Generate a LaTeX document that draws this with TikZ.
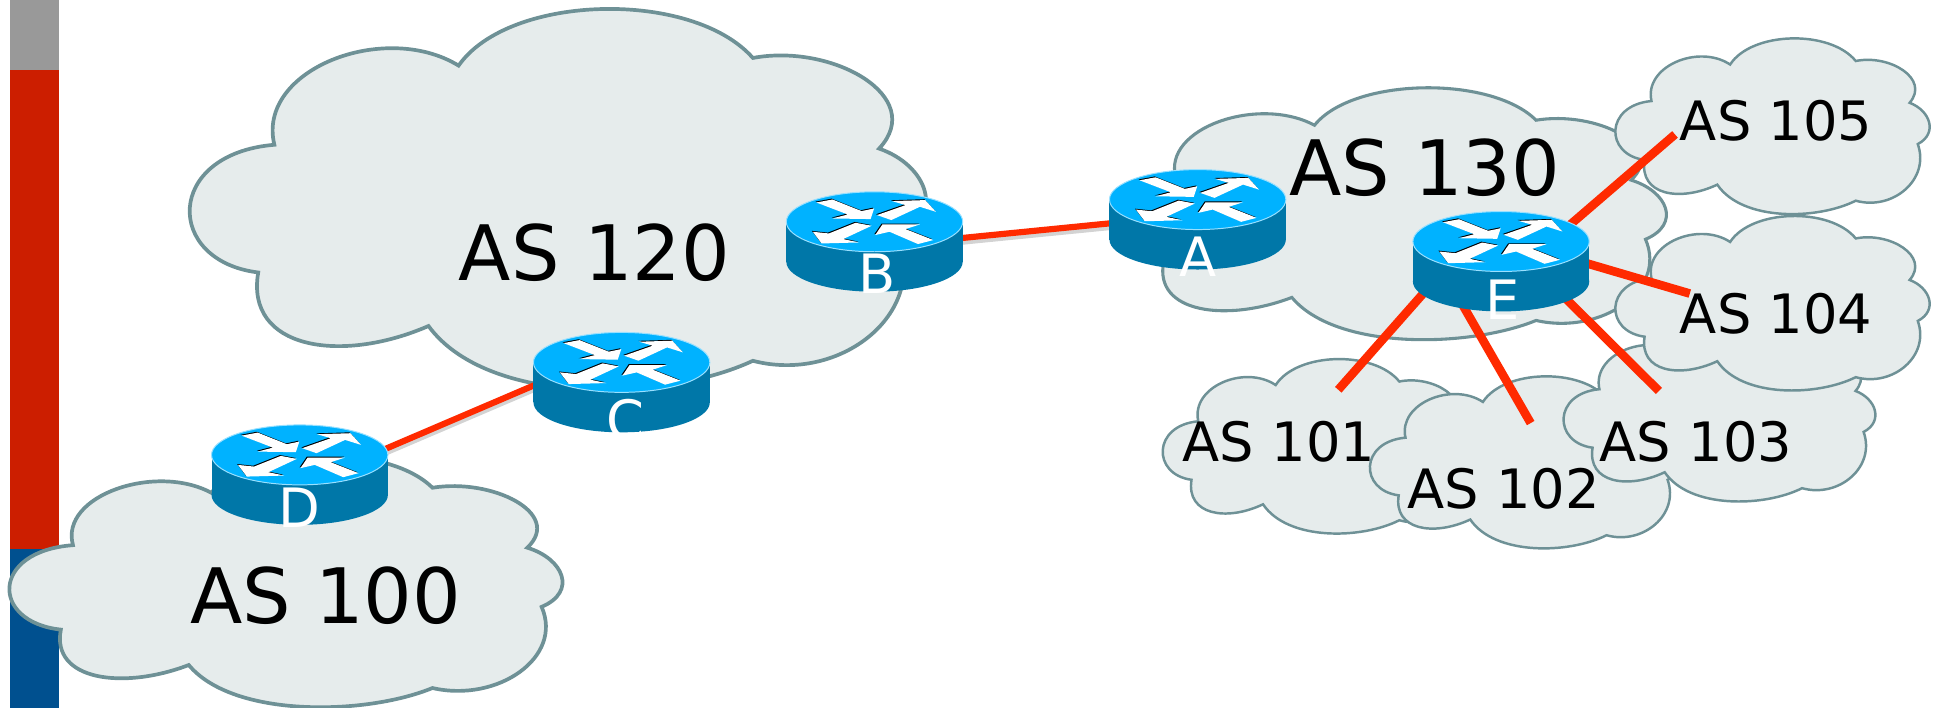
\documentclass[tikz,border=0pt]{standalone}
\usepackage{fontspec}
\setmainfont{DejaVu Sans}
\usetikzlibrary{calc,positioning}
\definecolor{cloudfill}{RGB}{230,236,236}
\definecolor{cloudedge}{RGB}{110,145,150}
\definecolor{linkred}{RGB}{255,42,0}
\definecolor{routertop}{RGB}{0,178,255}
\definecolor{routerside}{RGB}{0,119,168}
\definecolor{barred}{RGB}{204,30,0}
\definecolor{barblue}{RGB}{0,80,143}
\definecolor{bargray}{RGB}{153,153,153}
\newcommand{\ascloud}[5][2]{\draw[cloudbody,line width=#1pt,shift={(#2,#3)},x=#4pt,y=-#5pt] (.088,.69)
 .. controls (-.04,.66) and (-.04,.38) .. (.11,.356)
 .. controls (.085,.16) and (.26,.03) .. (.361,.149)
 .. controls (.43,-.04) and (.68,-.05) .. (.762,.129)
 .. controls (.87,.09) and (1.0,.23) .. (.934,.366)
 .. controls (1.0,.41) and (1.025,.54) .. (.96,.60)
 .. controls (1.0,.80) and (.88,.98) .. (.762,.921)
 .. controls (.64,1.03) and (.40,1.04) .. (.32,.83)
 .. controls (.2,.93) and (.07,.89) .. cycle;}
\newcommand{\arrowset}{
 (-58.2,-19.3)--(-42.1,-22.3)--(-12.9,-10.7)--(-.4,-13.3)--(-3.9,-2.7)--(-42.1,-3.3)--(-26.8,-7.3)--cycle
 (2.5,-6.7)--(16.8,-1.7)--(45.4,-15)--(61.4,-10)--(50.7,-21.7)--(17.5,-20.7)--(31.1,-16.7)--cycle
 (-18.9,1)--(-2.9,4)--(-31.4,17.3)--(-15.4,20.7)--(-52.9,21.7)--(-61.8,10)--(-45.7,11.7)--cycle
 (.7,13.3)--(7.9,2.7)--(45.4,2.7)--(31,7.3)--(58.9,18.3)--(43.5,22.3)--(15,10)--cycle}
\begin{document}
\begin{tikzpicture}[x=1pt,y=-1pt,
 cloudbody/.style={draw=cloudedge,fill=cloudfill},
 hub/.style={draw=none,minimum width=80pt,minimum height=40pt,inner sep=0pt},
 link/.style={draw=linkred,line width=5pt,preaction={draw=black!50,opacity=.35,line width=5pt,transform canvas={yshift=-3pt}}},
 spoke/.style={draw=linkred,line width=7pt},
 bigas/.style={font=\fontsize{62}{62}\selectfont,inner sep=0pt},
 smallas/.style={font=\fontsize{44}{44}\selectfont,inner sep=0pt},
 routername/.style={font=\fontsize{44}{44}\selectfont,text=white,inner sep=0pt},
 router/.pic={
  \fill[routerside] (0,16.2) ellipse [x radius=71.5,y radius=24.3];
  \fill[routerside] (-71.5,-16.2) rectangle (71.5,16.2);
  \draw[draw=white!60!routertop,fill=routertop,line width=.8pt] (0,-16.2) ellipse [x radius=71.5,y radius=24.3];
  \fill[black,shift={(-.7,-16.9)},scale=.81] \arrowset;
  \fill[white,shift={(0,-16.2)},scale=.81] \arrowset;
 }]
\useasboundingbox (0,0) rectangle (1568,574);
\fill[bargray] (8,0) rectangle (48,57);
\fill[barred] (8,57) rectangle (48,445);
\fill[barblue] (8,445) rectangle (48,574);
\ascloud[3]{157}{7}{595}{310}
\ascloud[3]{10}{369}{447}{205}
\ascloud[2.5]{904}{71}{448}{205}
\ascloud{944}{291}{250}{142}
\ascloud{1112}{305}{250}{140}
\ascloud{1269}{265}{252}{142}
\ascloud{1311}{175}{254}{142}
\ascloud{1311}{31}{254}{143}
\node[hub] (A) at (971,178) {};
\node[hub] (B) at (709,196) {};
\node[hub] (C) at (504,310) {};
\node[hub] (D) at (243,385) {};
\node[hub] (E) at (1217,212) {};
\coordinate (to105) at (1358,109);
\coordinate (to104) at (1370,238);
\coordinate (to103) at (1345,317);
\coordinate (to102) at (1241,343);
\coordinate (to101) at (1085,316);
\draw[link] (D.12.7)--(C.165);
\draw[link] (B.0)--(A.180);
\draw[spoke] (E.22.5)--(to105);
\draw[spoke] (E.10)--(to104);
\draw[spoke] (E.-24.2)--(to103);
\draw[spoke] (E.206)--(to102);
\draw[spoke] (E.180)--(to101);
\foreach \hubname in {A,B,C,D,E} {\pic at (\hubname) {router};}
\node[routername] (nameA) at (971,208) {A};
\node[routername] (nameB) at (711,222) {B};
\node[routername] (nameC) at (507,340) {C};
\node[routername] (nameD) at (243,412) {D};
\node[routername] (nameE) at (1218,243) {E};
\node[bigas] (as120) at (482,205) {AS 120};
\node[bigas] (as100) at (264,483) {AS 100};
\node[bigas] (as130) at (1155,136) {AS 130};
\node[smallas] (as105) at (1440,98) {AS 105};
\node[smallas] (as104) at (1440,254) {AS 104};
\node[smallas] (as103) at (1375,358) {AS 103};
\node[smallas] (as102) at (1219,396) {AS 102};
\node[smallas] (as101) at (1037,358) {AS 101};
\end{tikzpicture}
\end{document}
